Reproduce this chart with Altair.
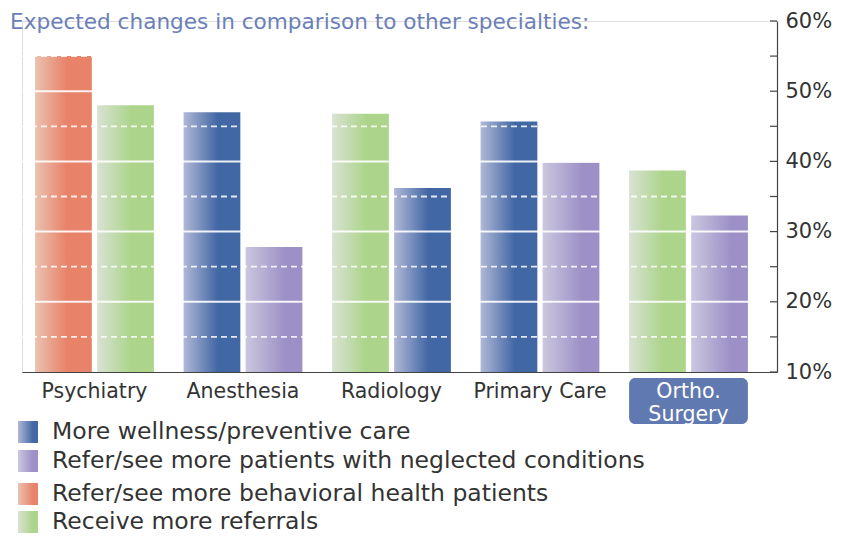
import altair as alt
import pandas as pd

FONT = "DejaVu Sans"
TEXT_COLOR = "#333333"

title_text = "Expected changes in comparison to other specialties:"
categories = ["Psychiatry", "Anesthesia", "Radiology", "Primary Care", "Ortho. Surgery"]
series_names = [
    "More wellness/preventive care",
    "Refer/see more patients with neglected conditions",
    "Refer/see more behavioral health patients",
    "Receive more referrals",
]
series_light = ["#b0b8d6", "#cbc7df", "#eac2b1", "#d9e2d3"]
series_full = ["#4267a5", "#9c90c6", "#e8836a", "#acd48a"]

bar_category = ["Psychiatry", "Psychiatry", "Anesthesia", "Anesthesia", "Radiology",
                "Radiology", "Primary Care", "Primary Care", "Ortho. Surgery", "Ortho. Surgery"]
bar_series = [
    "Refer/see more behavioral health patients", "Receive more referrals",
    "More wellness/preventive care", "Refer/see more patients with neglected conditions",
    "Receive more referrals", "More wellness/preventive care",
    "More wellness/preventive care", "Refer/see more patients with neglected conditions",
    "Receive more referrals", "Refer/see more patients with neglected conditions",
]
bar_slot = [0, 1, 0, 1, 0, 1, 0, 1, 0, 1]
bar_values = [55.0, 48.0, 47.0, 27.8, 46.8, 36.2, 45.7, 39.8, 38.7, 32.3]

solid_lines = [20, 30, 40, 50]
dashed_lines = [15, 25, 35, 45, 55]
tick_values = [10, 15, 20, 25, 30, 35, 40, 45, 50, 55, 60]
label_values = [10, 20, 30, 40, 50, 60]

W, H = 755, 351

bars = pd.DataFrame({"category": bar_category, "series": bar_series,
                     "slot": bar_slot, "value": bar_values})


def grad(light, full, mid):
    return alt.Gradient(
        gradient="linear", x1=0, x2=1, y1=0, y2=0,
        stops=[alt.GradientStop(color=light, offset=0),
               alt.GradientStop(color=full, offset=mid),
               alt.GradientStop(color=full, offset=1)])


mids = [0.6, 0.7, 0.55, 0.6]

y_scale = alt.Scale(domain=[10, 60], zero=False, nice=False)
x_scale = alt.Scale(domain=categories, paddingInner=0.2, paddingOuter=0.142, align=0.31)

x_enc = alt.X(
    "category:N", sort=categories, scale=x_scale,
    axis=alt.Axis(
        title=None, labelFont=FONT, labelFontSize=20.5,
        labelColor={"condition": {"test": "datum.value == 'Ortho. Surgery'", "value": "white"},
                    "value": TEXT_COLOR},
        labelExpr="datum.value == 'Ortho. Surgery' ? ['Ortho.', 'Surgery'] : datum.label",
        labelLineHeight=23, labelBaseline="top", labelPadding=9, labelAlign="center",
        bandPosition=0.5,
        ticks=False, tickSize=0, domainColor="#444444", domainWidth=1.2,
        labelAngle=0, zindex=1),
)

y_enc = alt.Y(
    "value:Q", scale=y_scale,
    axis=alt.Axis(orient="right", values=label_values, labelExpr="datum.value + '%'",
                  title=None, grid=False, ticks=False, tickSize=0, labelPadding=8,
                  labelFont=FONT, labelFontSize=21, labelColor=TEXT_COLOR,
                  domainColor="#444444", domainWidth=1.2, zindex=1),
)

layers = []

# Ortho. Surgery label box (placed with the category scale)
box = alt.Chart(pd.DataFrame({"category": ["Ortho. Surgery"]})).mark_rect(
    color="#6079b1", cornerRadius=6
).encode(x=alt.X("category:N", sort=categories, scale=x_scale),
         y=alt.value(H + 6), y2=alt.value(H + 52))
layers.append(box)

for i, name in enumerate(series_names):
    layer = alt.Chart(bars).transform_filter(alt.datum.series == name).mark_bar(
        color=grad(series_light[i], series_full[i], mids[i])
    ).encode(
        x=x_enc,
        xOffset=alt.XOffset("slot:O", scale=alt.Scale(domain=[0, 1], paddingInner=0.085)),
        y=y_enc,
        y2=alt.datum(10),
    )
    layers.append(layer)

solid = alt.Chart(pd.DataFrame({"v": solid_lines})).mark_rule(
    color="white", strokeWidth=2, opacity=0.9
).encode(y=alt.Y("v:Q", scale=y_scale))
dashed = alt.Chart(pd.DataFrame({"v": dashed_lines})).mark_rule(
    color="white", strokeWidth=1.8, opacity=0.85, strokeDash=[6, 4]
).encode(y=alt.Y("v:Q", scale=y_scale))
ticks = alt.Chart(pd.DataFrame({"v": tick_values})).mark_rule(
    color="#444444", strokeWidth=1.2
).encode(y=alt.Y("v:Q", scale=y_scale), x=alt.value(W - 7), x2=alt.value(W))
layers += [solid, dashed, ticks]

title = alt.Chart(pd.DataFrame({"t": [title_text]})).mark_text(
    align="left", baseline="alphabetic", font=FONT, fontSize=21.6, color="#6b80b8"
).encode(text="t:N", x=alt.value(-12), y=alt.value(8))
layers.append(title)

legend_rows = [411, 440, 473, 501]
for i, name in enumerate(series_names):
    sw = alt.Chart(pd.DataFrame({"s": [name]})).mark_rect(
        color=grad(series_light[i], series_full[i], 0.75)
    ).encode(x=alt.value(-4), x2=alt.value(16),
             y=alt.value(legend_rows[i] - 11), y2=alt.value(legend_rows[i] + 11))
    tx = alt.Chart(pd.DataFrame({"s": [name]})).mark_text(
        align="left", baseline="middle", font=FONT, fontSize=23.5, color=TEXT_COLOR
    ).encode(text="s:N", x=alt.value(30), y=alt.value(legend_rows[i]))
    layers += [sw, tx]

chart = alt.layer(*layers).properties(
    width=W, height=H,
    padding={"left": 14, "top": 13, "right": 62, "bottom": 165},
    autosize=alt.AutoSizeParams(type="none"),
).configure_view(stroke=None).configure(background="white")

chart.save("out.html", embed_options={"renderer": "svg", "actions": False})
